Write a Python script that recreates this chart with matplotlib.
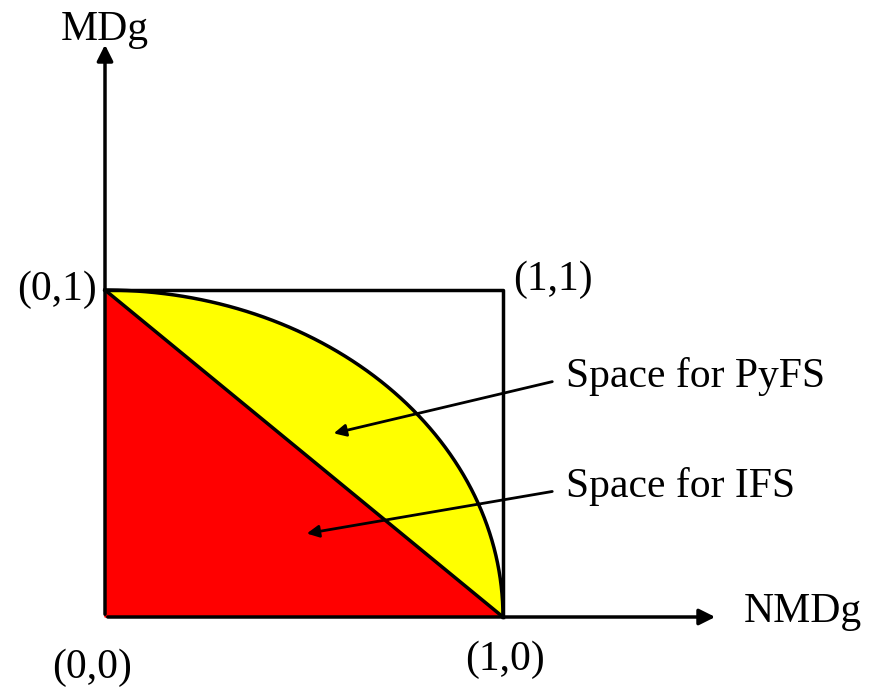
import numpy as np
import matplotlib
matplotlib.use("Agg")
import matplotlib.pyplot as plt

# unit-space diagram: NMDg (x) vs MDg (y)
corner_labels = ["(0,0)", "(1,0)", "(0,1)", "(1,1)"]
region_labels = ["Space for PyFS", "Space for IFS"]
axis_labels = ["NMDg", "MDg"]

plt.rcParams['font.family'] = ['Liberation Serif', 'DejaVu Serif']

fig = plt.figure(figsize=(8.78, 6.92), dpi=100)
ax = fig.add_axes([0, 0, 1, 1])
ax.set_xlim(-105 / 398, (878 - 105) / 398)
ax.set_ylim((617 - 692) / 327, 617 / 327)
ax.axis('off')


def px(x, y):
    return ((x - 105) / 398, (617 - y) / 327)


t = np.linspace(0, np.pi / 2, 200)
cx, cy = np.cos(t), np.sin(t)

# yellow region between circle and line
ax.fill(np.concatenate([cx, [0, 1]]), np.concatenate([cy, [1, 0]]),
        color='#ffff00', zorder=1)
# red triangle
ax.fill([0, 1, 0], [0, 0, 1], color='#ff0000', zorder=2)
ax.plot(cx, cy, color='black', lw=2.5, zorder=3)
ax.plot([0, 1], [1, 0], color='black', lw=2.5, zorder=3)
ax.plot([0, 1, 1], [1, 1, 0], color='black', lw=2.5, zorder=3)

# axes arrows
ax.annotate('', xy=px(718, 617), xytext=(0, 0),
            arrowprops=dict(arrowstyle='-|>', lw=2.5, color='black', mutation_scale=24), zorder=4)
ax.annotate('', xy=px(105, 42), xytext=(0, 0),
            arrowprops=dict(arrowstyle='-|>', lw=2.5, color='black', mutation_scale=24), zorder=4)

fs = 30
ax.text(*px(105, 30), axis_labels[1], ha='center', va='center', fontsize=fs)
ax.text(*px(744, 612), axis_labels[0], ha='left', va='center', fontsize=fs)
ax.text(*px(92, 668), corner_labels[0], ha='center', va='center', fontsize=fs)
ax.text(*px(505, 660), corner_labels[1], ha='center', va='center', fontsize=fs)
ax.text(*px(97, 290), corner_labels[2], ha='right', va='center', fontsize=fs)
ax.text(*px(513, 280), corner_labels[3], ha='left', va='center', fontsize=fs)

ax.text(*px(566, 376), region_labels[0], ha='left', va='center', fontsize=fs)
ax.text(*px(566, 486), region_labels[1], ha='left', va='center', fontsize=fs)
ax.annotate('', xy=px(331, 434), xytext=px(555, 381),
            arrowprops=dict(arrowstyle='-|>', lw=2, color='black', mutation_scale=18), zorder=5)
ax.annotate('', xy=px(304, 534), xytext=px(555, 491),
            arrowprops=dict(arrowstyle='-|>', lw=2, color='black', mutation_scale=18), zorder=5)

fig.savefig('out.png', dpi=100)
